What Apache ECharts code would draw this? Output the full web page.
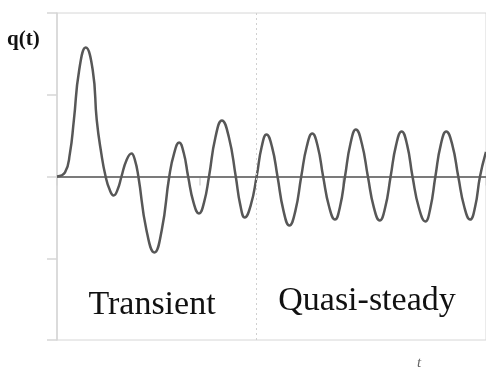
<!DOCTYPE html>
<html>
<head>
<meta charset="utf-8">
<script src="https://cdn.jsdelivr.net/npm/echarts@6/dist/echarts.min.js"></script>
<style>
html,body{margin:0;padding:0;background:#fff;}
#chart{width:486px;height:371px;}
</style>
</head>
<body>
<div id="chart"></div>
<script>
// time values (t) of points (extrema, zero crossings and flank points)
const tValues = [0, 0.056, 0.090, 0.118, 0.155, 0.201, 0.250, 0.278, 0.310, 0.340, 0.368, 0.396, 0.424, 0.451, 0.486, 0.521, 0.545, 0.569, 0.625, 0.681, 0.733, 0.785, 0.820, 0.854, 0.886, 0.917, 0.955, 0.993, 1.028, 1.063, 1.108, 1.153, 1.202, 1.250, 1.282, 1.313, 1.355, 1.396, 1.431, 1.465, 1.504, 1.542, 1.584, 1.625, 1.667, 1.708, 1.747, 1.785, 1.823, 1.861, 1.903, 1.944, 1.979, 2.014, 2.052, 2.090, 2.132, 2.174, 2.216, 2.257, 2.295, 2.333, 2.372, 2.410, 2.448, 2.486, 2.531, 2.576, 2.611, 2.646, 2.684, 2.722, 2.764, 2.806, 2.848, 2.889, 2.924, 2.958, 3.0];
// q(t) values at those times
const qValues = [0, 0.05, 0.28, 0.69, 1.30, 1.578, 1.30, 0.69, 0.28, 0, -0.16, -0.232, -0.16, 0, 0.20, 0.281, 0.20, 0, -0.65, -0.930, -0.65, 0, 0.29, 0.416, 0.29, 0, -0.32, -0.453, -0.32, 0, 0.48, 0.685, 0.48, 0, -0.35, -0.501, -0.35, 0, 0.36, 0.514, 0.36, 0, -0.42, -0.599, -0.42, 0, 0.37, 0.526, 0.37, 0, -0.37, -0.526, -0.37, 0, 0.40, 0.575, 0.40, 0, -0.38, -0.538, -0.38, 0, 0.39, 0.551, 0.39, 0, -0.385, -0.550, -0.385, 0, 0.39, 0.551, 0.39, 0, -0.37, -0.526, -0.37, 0, 0.30];
const yTicks = [-2, -1, 0, 1, 2];
const xTicks = [0, 1, 2, 3];
const regionSplit = 1.389;
const labels = { y: 'q(t)', x: 't', left: 'Transient', right: 'Quasi-steady' };

const chart = echarts.init(document.getElementById('chart'), null, { renderer: 'canvas' });
const data = tValues.map((t, i) => [t, qValues[i]]);
const light = '#d6d6d6';
chart.setOption({
  animation: false,
  backgroundColor: '#fff',
  grid: { left: 57, top: 13, right: -3, bottom: 31, show: true, borderColor: light, borderWidth: 1 },
  xAxis: {
    type: 'value', min: xTicks[0], max: xTicks[xTicks.length - 1], interval: 1,
    axisLine: { show: true, lineStyle: { color: light, width: 1.5 } },
    axisTick: { show: true, length: 9, lineStyle: { color: light, width: 1.5 } },
    axisLabel: { show: false },
    splitLine: { show: false }
  },
  yAxis: {
    type: 'value', min: yTicks[0], max: yTicks[yTicks.length - 1], interval: 1,
    axisLine: { show: true, lineStyle: { color: light, width: 1.5 } },
    axisTick: { show: true, length: 10, lineStyle: { color: light, width: 1.5 } },
    axisLabel: { show: false },
    splitLine: { show: false }
  },
  series: [{
    type: 'line',
    data: data,
    smooth: 0.5,
    showSymbol: false,
    lineStyle: { color: '#575757', width: 2.5 },
    markLine: {
      silent: true, symbol: 'none', label: { show: false },
      data: [
        { yAxis: 0, lineStyle: { color: '#5a5a5a', width: 1.6, type: 'solid' } },
        { xAxis: regionSplit, lineStyle: { color: '#d0d0d0', width: 1, type: [2, 3] } }
      ]
    },
    z: 3
  }],
  graphic: [
    { type: 'text', left: 7, top: 29, style: { text: labels.y, font: 'bold 21px "Liberation Serif", "DejaVu Serif", serif', fill: '#111' } },
    { type: 'text', left: 417, top: 356, style: { text: labels.x, font: 'italic 15px "Liberation Serif", serif', fill: '#666' } },
    { type: 'text', x: 152, y: 322, style: { text: labels.left, font: '34px "Liberation Serif", "DejaVu Serif", serif', fill: '#111', textAlign: 'center', textVerticalAlign: 'bottom' } },
    { type: 'text', x: 367, y: 318, style: { text: labels.right, font: '34px "Liberation Serif", "DejaVu Serif", serif', fill: '#111', textAlign: 'center', textVerticalAlign: 'bottom' } }
  ]
});
</script>
</body>
</html>
